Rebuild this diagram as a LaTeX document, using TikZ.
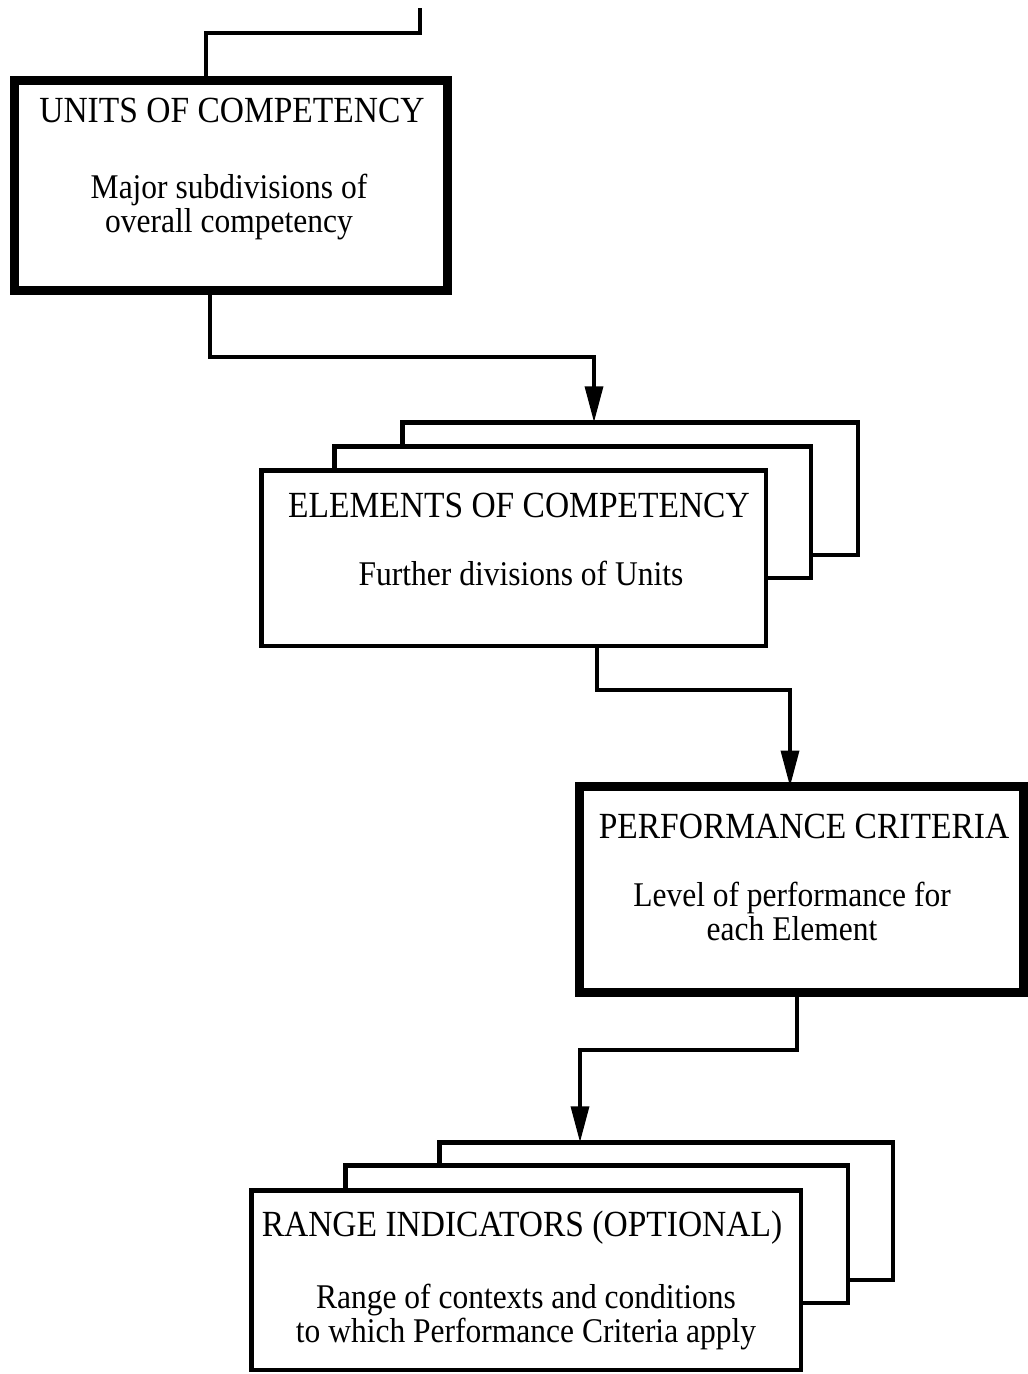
\documentclass[tikz,border=0pt]{standalone}
\usepackage{fontspec}
\setmainfont{Liberation Serif}
\usetikzlibrary{arrows.meta}
\newcommand{\vst}[1]{\scalebox{1}[1.1]{#1}}
\newcommand{\twolines}[2]{\vst{\begin{tabular}{@{}c@{}}#1\\#2\end{tabular}}}
\begin{document}
\begin{tikzpicture}[x=1pt,y=-1pt,
  thickbox/.style={draw,line width=9.5pt,fill=white,rectangle,inner sep=0pt,outer sep=0pt},
  stackbox/.style={draw,line width=4.5pt,fill=white,rectangle,inner sep=0pt,outer sep=0pt},
  titletext/.style={font=\fontsize{33.5}{36}\selectfont,inner sep=0pt},
  subtext/.style={font=\fontsize{31.5}{29.5}\selectfont,align=center,inner sep=0pt},
  conn/.style={line width=3.5pt},
  arr/.style={conn,-{Triangle[length=36pt,width=18pt]}},
]
\useasboundingbox (0,0) rectangle (1028,1374);

% boxes
\node[thickbox,minimum width=433pt,minimum height=210pt] (units) at (231,185.5) {};

\node[stackbox,minimum width=455.5pt,minimum height=132.5pt] (elA) at (630,488.5) {};
\node[stackbox,minimum width=476.5pt,minimum height=131.5pt] (elB) at (572.5,512) {};
\node[stackbox,minimum width=504.5pt,minimum height=175.5pt] (elC) at (513.5,558) {};

\node[thickbox,minimum width=444pt,minimum height=206pt] (perf) at (801.5,889.5) {};

\node[stackbox,minimum width=453.5pt,minimum height=137.5pt] (rgA) at (666,1211) {};
\node[stackbox,minimum width=502.5pt,minimum height=137.5pt] (rgB) at (596.5,1234) {};
\node[stackbox,minimum width=549.5pt,minimum height=179.5pt] (rgC) at (526,1280) {};

% texts
\node[titletext] (unitsT) at (232,110) {\vst{UNITS OF COMPETENCY}};
\node[subtext] (unitsS) at (229,208) {\twolines{Major subdivisions of}{overall competency}};

\node[titletext] (elT) at (519,505) {\vst{ELEMENTS OF COMPETENCY}};
\node[subtext] (elS) at (521,573) {\vst{Further divisions of Units}};

\node[titletext] (perfT) at (804,826) {\vst{PERFORMANCE CRITERIA}};
\node[subtext] (perfS) at (792,916) {\twolines{Level of performance for}{each Element}};

\node[titletext] (rgT) at (522,1228) {\vst{RANGE INDICATORS (OPTIONAL)}};
\node[subtext] (rgS) at (526,1318) {\twolines{Range of contexts and conditions}{to which Performance Criteria apply}};

% connectors
\coordinate (top) at (420,8);
\coordinate (t1) at (420,33);
\coordinate (t2) at (206,33);
\draw[conn] (top) -- (t1) -- (t2) -- (t2 |- units.north);

\coordinate (b1) at (210,357);
\coordinate (b2) at (594,357);
\draw[arr] (units.south -| b1) -- (b1) -- (b2) -- (b2 |- elA.north);

\coordinate (c1) at (597,690);
\coordinate (c2) at (790,690);
\draw[arr] (elC.south -| c1) -- (c1) -- (c2) -- (c2 |- perf.north);

\coordinate (d1) at (797,1050);
\coordinate (d2) at (580,1050);
\draw[arr] (perf.south -| d1) -- (d1) -- (d2) -- (d2 |- rgA.north);
\end{tikzpicture}
\end{document}
